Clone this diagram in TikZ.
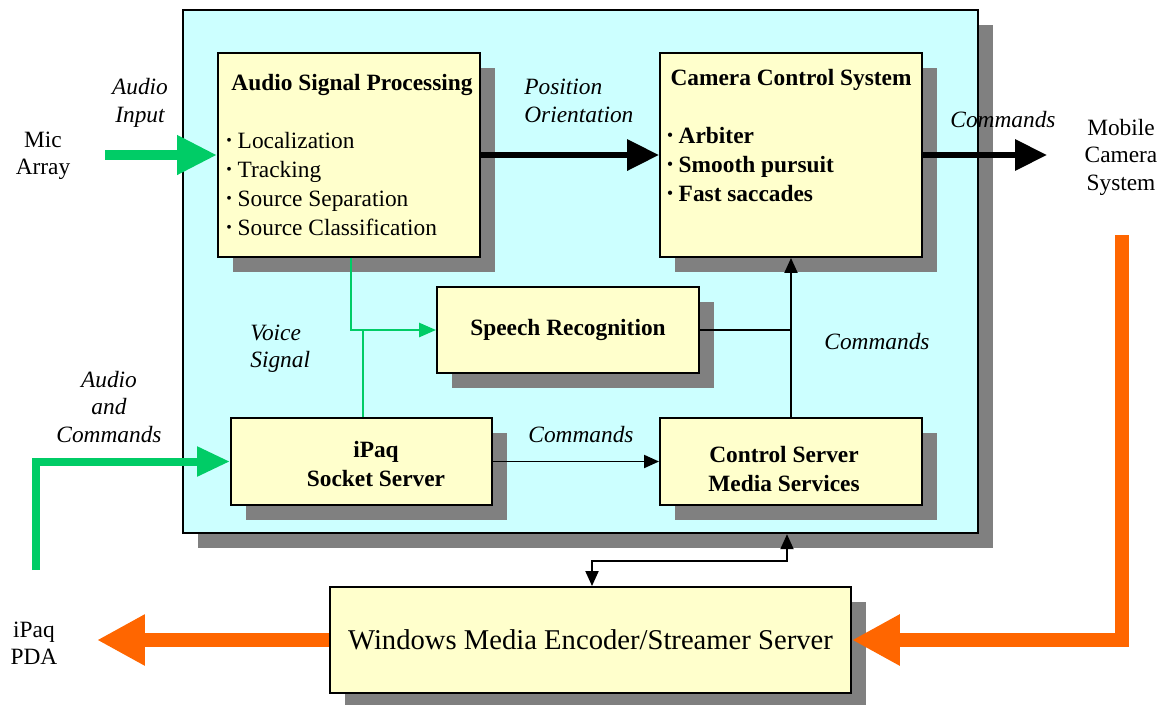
\documentclass[tikz,border=0pt]{standalone}
\usepackage{fontspec}
\setmainfont{Liberation Serif}
\usetikzlibrary{arrows.meta,shadows,positioning}
\definecolor{panelcyan}{RGB}{204,255,255}
\definecolor{boxyellow}{RGB}{255,255,204}
\definecolor{shadowgray}{RGB}{128,128,128}
\definecolor{sigreen}{RGB}{0,204,102}
\definecolor{streamorange}{RGB}{255,102,0}
\newcommand\smallbul{\raisebox{0.12em}{\fontsize{9}{9}\selectfont\textbullet}\ }
\tikzset{
  shadowed/.style={drop shadow={shadow xshift=0.3cm, shadow yshift=-0.3cm, fill=shadowgray, opacity=1}},
  procbox/.style={draw=black, line width=1.1pt, fill=boxyellow, shadowed, inner sep=0pt},
  lbl/.style={font=\fontsize{13.3}{15.6}\selectfont, align=center, inner sep=0pt},
  ilbl/.style={font=\fontsize{13.3}{15.6}\selectfont\itshape, align=center, inner sep=0pt},
  fatgreen/.style={draw=sigreen, line width=0.2cm, -{Triangle[length=0.8cm,width=0.74cm]}},
  fatblack/.style={draw=black, line width=0.13cm, -{Triangle[length=0.64cm,width=0.6cm]}},
  fatorange/.style={draw=streamorange, line width=0.28cm, -{Triangle[length=0.96cm,width=0.96cm]}},
  thingreen/.style={draw=sigreen, line width=1.5pt},
  thinline/.style={draw=black, line width=1.1pt},
  thinarrow/.style={thinline, -{Triangle[length=0.3cm,width=0.26cm]}}
}
\begin{document}
\begin{tikzpicture}[x=0.02cm,y=-0.02cm]
  \useasboundingbox (0,0) rectangle (1163,704);
  % outer panel
  \node[draw=black, line width=1.4pt, fill=panelcyan, shadowed, minimum width=15.9cm, minimum height=10.46cm, inner sep=0pt] (panel) at (580.5,271.5) {};
  % processing blocks
  \node[procbox, minimum width=5.24cm, minimum height=4.08cm] (asp) at (349,155) {};
  \node[lbl, anchor=base] (asptitle) at (352,90) {\textbf{Audio Signal Processing}};
  \node[lbl, align=left, anchor=north west, font=\fontsize{13.3}{16.4}\selectfont] (asplist) at (226,132)
    {\smallbul Localization\\ \smallbul Tracking\\ \smallbul Source Separation\\ \smallbul Source Classification};
  \node[procbox, minimum width=5.24cm, minimum height=4.08cm] (cam) at (791,155) {};
  \node[lbl, anchor=base] (camtitle) at (791,85) {\textbf{Camera Control System}};
  \node[lbl, align=left, anchor=north west, font=\fontsize{13.3}{16.4}\selectfont\bfseries] (camlist) at (667,127)
    {\smallbul Arbiter\\ \smallbul Smooth pursuit\\ \smallbul Fast saccades};
  \node[procbox, minimum width=5.24cm, minimum height=1.72cm, lbl] (speech) at (568,330) {\textbf{Speech Recognition}};
  \node[procbox, minimum width=5.22cm, minimum height=1.74cm] (ipaq) at (361.5,461.5) {};
  \node[lbl, font=\fontsize{13.3}{16.4}\selectfont\bfseries] (ipaqtxt) at (376,464) {iPaq\\Socket Server};
  \node[procbox, minimum width=5.24cm, minimum height=1.74cm] (control) at (791,461.5) {};
  \node[lbl, font=\fontsize{13.3}{16.4}\selectfont\bfseries] (controltxt) at (784,469) {Control Server\\Media Services};
  \node[procbox, minimum width=10.42cm, minimum height=2.12cm, lbl, font=\fontsize{16.3}{19}\selectfont] (wmes) at (590.5,640) {Windows Media Encoder/Streamer Server};
  % free ends
  \coordinate (micin) at (105,155);
  \coordinate (camout) at (1047,155);
  \coordinate (camfeed) at (1122,235);
  \coordinate (pdaout) at (97,640);
  \coordinate (pdain) at (36,570);
  \coordinate (voicejoin) at (351,330);
  \coordinate (ipaqtap) at (363,330);
  \coordinate (cmdjoin) at (791,330);
  \coordinate (bendr) at (787,561);
  \coordinate (bendl) at (592,561);
  % connectors
  \draw[fatgreen] (micin) -- (asp.west);
  \draw[fatblack] (asp.east) -- (cam.west);
  \draw[fatblack] (cam.east) -- (camout);
  \draw[fatorange] (camfeed) -- (camfeed |- wmes.east) -- (wmes.east);
  \draw[fatorange] (wmes.west) -- (pdaout);
  \draw[draw=sigreen, line width=0.16cm, -{Triangle[length=0.66cm,width=0.56cm]}] (pdain) -- (pdain |- ipaq.west) -- (ipaq.west);
  \draw[thingreen, -{Triangle[length=0.34cm,width=0.28cm]}] (asp.south -| voicejoin) -- (voicejoin) -- (speech.west);
  \draw[thingreen] (ipaq.north -| ipaqtap) -- (ipaqtap);
  \draw[thinline] (speech.east) -- (cmdjoin);
  \draw[thinarrow] (control.north) -- (cam.south);
  \draw[thinarrow] (ipaq.east) -- (control.west);
  \draw[thinline, {Triangle[length=0.3cm,width=0.26cm]}-{Triangle[length=0.3cm,width=0.26cm]}] (bendr |- panel.south) -- (bendr) -- (bendl) -- (bendl |- wmes.north);
  % labels
  \node[ilbl] (audioinlbl) at (140,103) {Audio\\Input};
  \node[lbl] (miclbl) at (43,156) {Mic\\Array};
  \node[ilbl, align=left, anchor=west] (poslbl) at (524,101) {Position\\Orientation};
  \node[ilbl] (cmdoutlbl) at (1003,120) {Commands};
  \node[lbl] (mobilelbl) at (1121,157) {Mobile\\Camera\\System};
  \node[ilbl, align=left, anchor=west] (voicelbl) at (250,349) {Voice\\Signal};
  \node[ilbl] (cmdvertlbl) at (877,342) {Commands};
  \node[ilbl] (pdainlbl) at (109,407) {Audio\\and\\Commands};
  \node[ilbl] (cmdhorlbl) at (581,435) {Commands};
  \node[lbl] (pdalbl) at (34,643) {iPaq\\PDA};
\end{tikzpicture}
\end{document}
